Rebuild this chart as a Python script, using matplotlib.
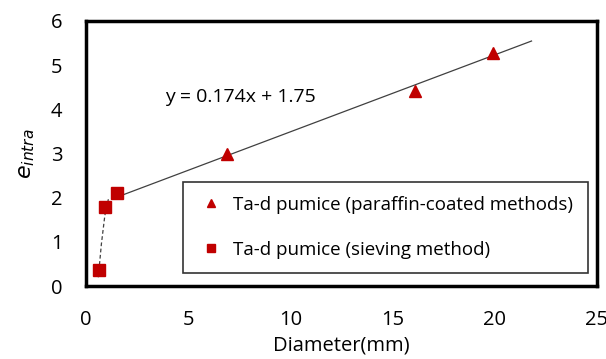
import matplotlib
matplotlib.use('Agg')
import matplotlib.pyplot as plt
import numpy as np

plt.rcParams['font.family'] = ['Open Sans', 'DejaVu Sans']

# paraffin-coated methods
coated_d = [6.9, 16.1, 19.9]
coated_e = [2.98, 4.42, 5.28]
# sieving method
sieve_d = [0.62, 0.95, 1.5]
sieve_e = [0.37, 1.8, 2.1]
# trendline y = 0.174x + 1.75
slope, intercept = 0.174, 1.75
fit_range = [1.3, 21.8]
# dashed guide near origin
guide_d = [0.6, 0.75, 0.92, 1.1]
guide_e = [0.2, 0.95, 1.6, 1.98]

red = '#C00000'

fig = plt.figure(figsize=(6.06, 3.59), dpi=100)
ax = fig.add_axes([0.142, 0.203, 0.843, 0.739])

fx = np.array(fit_range)
ax.plot(fx, slope * fx + intercept, color='#404040', lw=0.9, zorder=1)
ax.plot(guide_d, guide_e, color='#404040', lw=0.9, ls=(0, (3, 2)), zorder=1)

ax.plot(coated_d, coated_e, ls='none', marker='^', ms=8, color=red,
        label='Ta-d pumice (paraffin-coated methods)', zorder=3)
ax.plot(sieve_d, sieve_e, ls='none', marker='s', ms=8, color=red,
        label='Ta-d pumice (sieving method)', zorder=3)

ax.text(3.85, 4.27, 'y = 0.174x + 1.75', fontsize=14, va='center', ha='left')

ax.set_xlim(0, 25)
ax.set_ylim(0, 6)
ax.set_xticks([0, 5, 10, 15, 20, 25])
ax.set_yticks([0, 1, 2, 3, 4, 5, 6])
ax.tick_params(length=0, labelsize=14.5)
ax.tick_params(axis='x', pad=17)
ax.tick_params(axis='y', pad=17)
for s in ax.spines.values():
    s.set_linewidth(2.5)
    s.set_color('black')

ax.set_xlabel('Diameter(mm)', fontsize=14.5, labelpad=4)
ax.set_ylabel(r'$e_{intra}$', fontsize=16, labelpad=10)

leg = ax.legend(loc='lower left', bbox_to_anchor=(0.19, 0.049, 0.792, 0.347),
                mode='expand', borderaxespad=0, fontsize=13.5,
                frameon=True, fancybox=False, edgecolor='black', handlelength=1.5,
                handletextpad=0.4, labelspacing=1.45, borderpad=0.75, markerscale=0.8)
leg.get_frame().set_linewidth(1.2)

fig.savefig('out.png', dpi=100)
